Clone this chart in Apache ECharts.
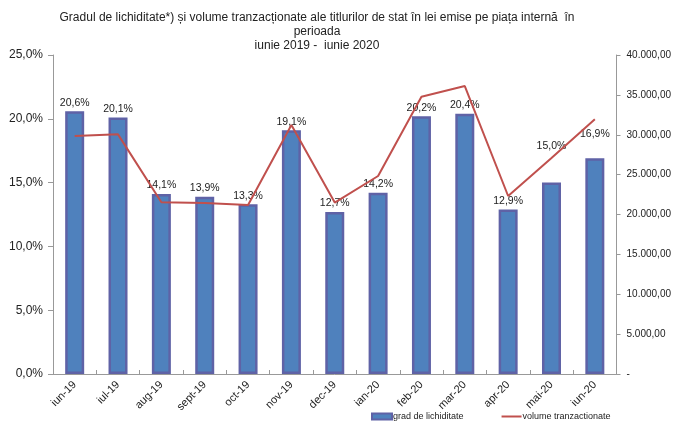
<!DOCTYPE html>
<html>
<head>
<meta charset="utf-8">
<script src="https://cdn.jsdelivr.net/npm/echarts@6/dist/echarts.min.js"></script>
<style>
  html, body { margin: 0; padding: 0; background: #fff; }
  #chart { width: 674px; height: 427px; }
</style>
</head>
<body>
<div id="chart"></div>
<script>
// luni
var categories = ['iun-19', 'iul-19', 'aug-19', 'sept-19', 'oct-19', 'nov-19', 'dec-19',
  'ian-20', 'feb-20', 'mar-20', 'apr-20', 'mai-20', 'iun-20']
// grad de lichiditate (%)
var gradLichiditate = [20.6, 20.1, 14.1, 13.9, 13.3, 19.1, 12.7, 14.2, 20.2, 20.4, 12.9, 15.0, 16.9]
// volume tranzactionate
var volumeTranzactionate = [29850, 30050, 21530, 21440, 21190, 31220, 21500, 24830, 34770, 36110, 22320, 27100, 31930]

var chart = echarts.init(document.getElementById('chart'))

function fmtPct(v) {
  return v.toFixed(1).replace('.', ',') + '%'
}
function fmtVol(v) {
  if (v === 0) return '-'
  var s = Math.round(v).toString().replace(/\B(?=(\d{3})+(?!\d))/g, '.')
  return s + ',00'
}

var option = {
  backgroundColor: '#fff',
  textStyle: { fontFamily: 'Liberation Sans, Arial, sans-serif' },
  title: {
    text: 'Gradul de lichiditate*) și volume tranzacționate ale titlurilor de stat în lei emise pe piața internă  în\nperioada\niunie 2019 -  iunie 2020',
    left: 312,
    top: 6,
    textAlign: 'center',
    textStyle: { fontSize: 12, fontWeight: 'normal', color: '#222', lineHeight: 14 }
  },
  legend: {
    bottom: 1,
    left: 366,
    itemGap: 38,
    itemWidth: 20,
    itemHeight: 6,
    textStyle: { fontSize: 9, color: '#222', padding: [0, 0, 0, -4] },
    data: [
      { name: 'grad de lichiditate', icon: 'rect' },
      { name: 'volume tranzactionate', icon: 'path://M0,0 L20,0 L20,2 L0,2 Z' }
    ]
  },
  grid: { left: 53, right: 52, top: 55, bottom: 53 },
  xAxis: {
    type: 'category',
    data: categories,
    axisLine: { lineStyle: { color: '#999' } },
    axisTick: { show: true, inside: true, length: 4, lineStyle: { color: '#999' } },
    axisLabel: { rotate: 45, fontSize: 11, color: '#222', margin: 9, interval: 0 }
  },
  yAxis: [
    {
      type: 'value',
      min: 0,
      max: 25,
      interval: 5,
      axisLine: { show: true, lineStyle: { color: '#999' } },
      axisTick: { show: true, length: 5, lineStyle: { color: '#999' } },
      splitLine: { show: false },
      axisLabel: { fontSize: 12, color: '#222', margin: 10, formatter: function (v) { return fmtPct(v) } }
    },
    {
      type: 'value',
      min: 0,
      max: 40000,
      interval: 5000,
      position: 'right',
      axisLine: { show: true, lineStyle: { color: '#999' } },
      axisTick: { show: true, length: 4, lineStyle: { color: '#999' } },
      splitLine: { show: false },
      axisLabel: { fontSize: 10, color: '#222', margin: 10, formatter: fmtVol }
    }
  ],
  series: [
    {
      name: 'grad de lichiditate',
      type: 'bar',
      yAxisIndex: 0,
      barWidth: 19,
      itemStyle: { color: '#4F81BD', borderColor: '#5F62A6', borderWidth: 2.5 },
      label: {
        show: true,
        position: 'top',
        distance: 3,
        fontSize: 10.5,
        color: '#222',
        formatter: function (p) { return fmtPct(p.value) }
      },
      data: gradLichiditate.map(function (v, i) {
        // etichetele pentru mai-20 si iun-20 stau mai sus in original
        if (i === 11) return { value: v, label: { offset: [0, -28] } }
        if (i === 12) return { value: v, label: { offset: [0, -16] } }
        return v
      }),
      z: 2
    },
    {
      name: 'volume tranzactionate',
      type: 'line',
      yAxisIndex: 1,
      symbol: 'none',
      lineStyle: { color: '#C0504D', width: 2 },
      itemStyle: { color: '#C0504D' },
      data: volumeTranzactionate,
      z: 3
    }
  ]
}

chart.setOption(option)
</script>
</body>
</html>
